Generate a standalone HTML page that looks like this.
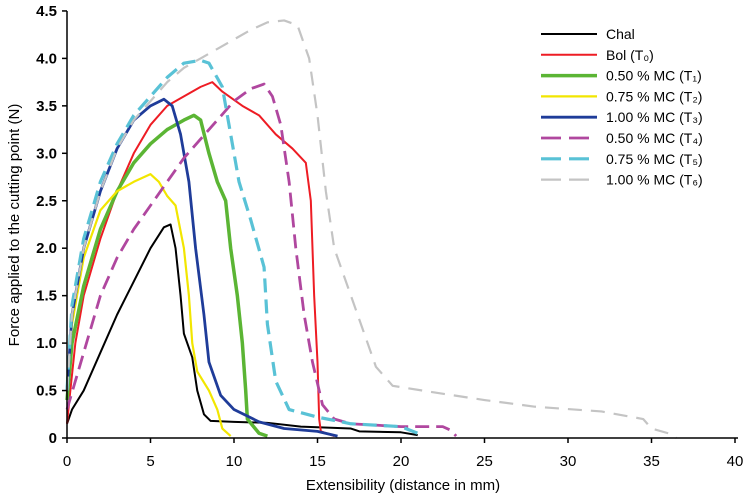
<!DOCTYPE html>
<html><head><meta charset="utf-8"><style>
body{margin:0;background:#fff;width:750px;height:496px;overflow:hidden}
svg{display:block;font-family:"Liberation Sans",sans-serif}
</style></head><body>
<svg id="chart" width="750" height="496"></svg>
<script>
const xTicks=[0,5,10,15,20,25,30,35,40];
const yTicks=[0,0.5,1.0,1.5,2.0,2.5,3.0,3.5,4.0,4.5];
const seriesNames=["Chal","Bol (T₀)","0.50 % MC (T₁)","0.75 % MC (T₂)","1.00 % MC (T₃)","0.50 % MC (T₄)","0.75 % MC (T₅)","1.00 % MC (T₆)"];
const chal=[[0,0.15],[0.3,0.3],[1,0.5],[2,0.9],[3,1.3],[4,1.65],[5,2.0],[5.8,2.22],[6.2,2.25],[6.5,2.0],[6.8,1.5],[7,1.1],[7.5,0.85],[7.8,0.5],[8.2,0.25],[8.6,0.18],[10,0.17],[12,0.16],[14,0.12],[17,0.1],[17.5,0.07],[20,0.06],[21,0.03]];
const bol=[[0,0.15],[0.2,0.5],[0.5,1.0],[1,1.5],[2,2.1],[3,2.6],[4,3.0],[5,3.3],[6,3.5],[7,3.6],[8,3.7],[8.7,3.75],[9.3,3.65],[10.5,3.5],[11.5,3.4],[12.5,3.2],[13.5,3.05],[14.3,2.9],[14.6,2.5],[14.8,1.5],[15,0.8],[15.1,0.2],[15.2,0.07],[16,0.02]];
const t1=[[0,0.4],[0.3,1.0],[1,1.6],[2,2.2],[3,2.6],[4,2.9],[5,3.1],[6,3.25],[7,3.35],[7.6,3.4],[8,3.35],[8.5,3.0],[9,2.7],[9.5,2.5],[9.8,2.0],[10.2,1.5],[10.5,1.0],[10.7,0.5],[10.8,0.2],[11.5,0.05],[12,0.02]];
const t2=[[0,0.6],[0.3,1.2],[1,1.9],[2,2.4],[3,2.6],[4,2.7],[5,2.78],[5.5,2.7],[6,2.55],[6.5,2.45],[7,2.0],[7.3,1.5],[7.5,1.0],[7.8,0.7],[8.5,0.5],[9,0.3],[9.3,0.1],[9.8,0.02]];
const t3=[[0,0.5],[0.3,1.3],[1,2.0],[2,2.6],[3,3.05],[4,3.35],[5,3.5],[5.8,3.57],[6.3,3.5],[6.8,3.2],[7.3,2.7],[7.7,2.0],[8.2,1.3],[8.5,0.8],[9.2,0.45],[10,0.3],[11.5,0.17],[13,0.1],[15,0.07],[16.2,0.02]];
const t4=[[0,0.3],[1,0.9],[2,1.5],[3,1.9],[4,2.2],[5,2.45],[6,2.7],[7,2.95],[8,3.15],[9,3.35],[10,3.55],[11,3.68],[11.8,3.73],[12.3,3.6],[12.8,3.3],[13.3,2.7],[13.7,2.0],[14.2,1.3],[14.7,0.8],[15.3,0.35],[16,0.2],[17,0.15],[20,0.12],[22.5,0.12],[23,0.08],[23.3,0.02]];
const t5=[[0,0.5],[0.3,1.4],[1,2.1],[2,2.7],[3,3.1],[4,3.4],[5,3.6],[6,3.8],[7,3.95],[8,3.98],[8.5,3.95],[9.3,3.7],[9.7,3.3],[10.3,2.7],[11,2.3],[11.8,1.8],[12,1.2],[12.5,0.6],[13.3,0.3],[15,0.22],[17,0.15],[20,0.12],[21,0.05]];
const t6=[[0,0.5],[0.3,1.3],[1,2.0],[2,2.6],[3,3.05],[4,3.35],[5,3.55],[6,3.75],[7,3.9],[8,4.0],[9,4.1],[10,4.2],[11,4.3],[12,4.38],[13,4.4],[13.8,4.35],[14.5,4.0],[15,3.4],[15.5,2.6],[16,2.0],[17,1.5],[17.8,1.1],[18.5,0.75],[19.5,0.55],[22,0.48],[25,0.4],[28,0.33],[32,0.28],[34.5,0.2],[35,0.1],[36,0.05],[36.5,0.0]];
const allSeries=[chal,bol,t1,t2,t3,t4,t5,t6];
const styles=[["#000",2,""],["#ee1c24",2,""],["#5bb534",3.5,""],["#f2e600",2.2,""],["#1f3c99",2.8,""],["#b0479f",2.8,"14,7"],["#59c2d6",3.2,"14,7"],["#c4c4c4",2.2,"14,9"]];
const X0=67,XS=16.7,Y0=438,YS=94.9;
const xs=v=>X0+v*XS, ys=v=>Y0-v*YS;
const svg=document.getElementById('chart');const NS="http://www.w3.org/2000/svg";
function mk(t,a,p){const e=document.createElementNS(NS,t);for(const k in a)e.setAttribute(k,a[k]);(p||svg).appendChild(e);return e;}
allSeries.forEach((s,i)=>{const st=styles[i];
 const p=mk('polyline',{points:s.map(d=>xs(d[0])+','+ys(d[1])).join(' '),fill:'none',stroke:st[0],'stroke-width':st[1],'stroke-dasharray':st[2],'stroke-linejoin':'round'});
 
 });
const ax=mk('path',{d:`M${X0},11V${Y0}H${xs(40)+3}`,stroke:'#000','stroke-width':1.5,fill:'none'});


xTicks.forEach(v=>{mk('line',{x1:xs(v),x2:xs(v),y1:Y0,y2:Y0+5,stroke:'#000','stroke-width':1.5});
 const t=mk('text',{x:xs(v),y:466,'text-anchor':'middle','font-size':15});t.textContent=v;
 
 });
yTicks.forEach(v=>{mk('line',{x1:X0-5,x2:X0,y1:ys(v),y2:ys(v),stroke:'#000','stroke-width':1.5});
 const t=mk('text',{x:X0-10,y:ys(v)+5,'text-anchor':'end','font-size':15,'font-weight':'bold'});t.textContent=v===0?'0':v.toFixed(1);
 
 });
const xt=mk('text',{x:403,y:490,'text-anchor':'middle','font-size':15});xt.textContent='Extensibility (distance in mm)';


const yt=mk('text',{x:0,y:0,'text-anchor':'middle','font-size':15,transform:'translate(19,225) rotate(-90)'});yt.textContent='Force applied to the cutting point (N)';


seriesNames.forEach((n,i)=>{const st=styles[i];const y=34+20.8*i;
 const g=mk('g',{});
 
 
 mk('line',{x1:541,x2:597,y1:y,y2:y,stroke:st[0],'stroke-width':st[1],'stroke-dasharray':st[2]?'20,8':''},g);
 const t=mk('text',{x:606,y:y+5,'font-size':14},g);t.textContent=n;});
</script>
</body></html>
